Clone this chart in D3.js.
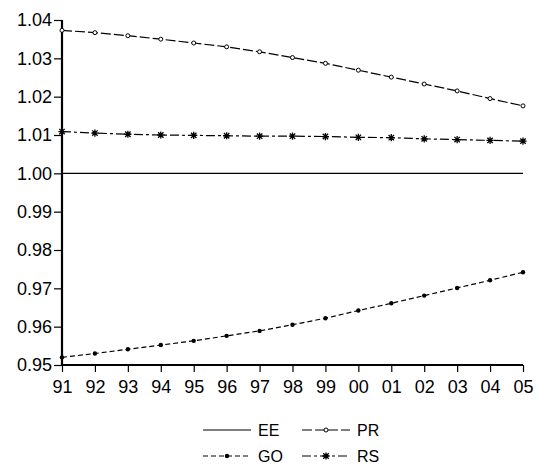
<!DOCTYPE html>
<html>
<head>
<meta charset="utf-8">
<script src="https://cdn.jsdelivr.net/npm/d3@7"></script>
<style>
  html, body { margin: 0; padding: 0; background: #fff; }
  svg { display: block; font-family: "Liberation Sans", Arial, Helvetica, sans-serif; }
</style>
</head>
<body>
<svg id="chart" width="539" height="470"></svg>
<script>
// Years shown on the horizontal axis
const years = ["91","92","93","94","95","96","97","98","99","00","01","02","03","04","05"];

// Series values per year
const ee = [1.000,1.000,1.000,1.000,1.000,1.000,1.000,1.000,1.000,1.000,1.000,1.000,1.000,1.000,1.000];
const pr = [1.0373,1.0367,1.0359,1.0350,1.0340,1.0330,1.0317,1.0302,1.0287,1.0269,1.0251,1.0233,1.0215,1.0195,1.0176];
const go = [0.9520,0.9530,0.9541,0.9552,0.9563,0.9576,0.9589,0.9605,0.9622,0.9642,0.9661,0.9681,0.9701,0.9721,0.9742];
const rs = [1.0109,1.0105,1.0102,1.0100,1.0099,1.0098,1.0097,1.0097,1.0096,1.0094,1.0093,1.0090,1.0088,1.0086,1.0084];

// Value axis ticks
const yTicks = [0.95,0.96,0.97,0.98,0.99,1.00,1.01,1.02,1.03,1.04];

const series = [
  { name: "EE", values: ee, dash: null, marker: "none" },
  { name: "PR", values: pr, dash: "10,3", marker: "circle" },
  { name: "GO", values: go, dash: "5,3", marker: "dot" },
  { name: "RS", values: rs, dash: "9,3,3,3", marker: "star" }
];

const svg = d3.select("#chart");
const plotLeft = 62, plotRight = 523, plotTop = 20, plotBottom = 365;

const x = d3.scalePoint().domain(years).range([plotLeft, plotRight]);
const y = d3.scaleLinear().domain([0.95, 1.04]).range([plotBottom, plotTop]);

// Axes
const yAxis = d3.axisLeft(y).tickValues(yTicks).tickFormat(d3.format(".2f")).tickSize(8).tickPadding(2);
const xAxis = d3.axisBottom(x).tickSize(7).tickPadding(8);

const gy = svg.append("g").attr("transform", `translate(${plotLeft},0)`).call(yAxis);
const gx = svg.append("g").attr("transform", `translate(0,${plotBottom})`).call(xAxis);

[gy, gx].forEach(g => {
  g.select(".domain").attr("stroke", "#000").attr("stroke-width", 2.2);
  g.selectAll(".tick line").attr("stroke", "#000").attr("stroke-width", 1.2);
  g.selectAll(".tick text").attr("fill", "#000").style("font-size", "18px")
    .style("font-family", "'Liberation Sans', Arial, sans-serif");
});
gy.select(".domain").attr("d", `M0,${plotBottom}V${plotTop}`);
gx.select(".domain").attr("d", `M${plotLeft - 1},0H${plotRight}`);

// Marker drawing helper
function drawMarker(g, kind, cx, cy) {
  if (kind === "circle") {
    g.append("circle").attr("cx", cx).attr("cy", cy).attr("r", 2)
      .attr("fill", "#fff").attr("stroke", "#000").attr("stroke-width", 1);
  } else if (kind === "dot") {
    g.append("circle").attr("cx", cx).attr("cy", cy).attr("r", 2.2).attr("fill", "#000");
  } else if (kind === "star") {
    const s = 3.6;
    const d = `M${cx - s},${cy}H${cx + s}M${cx},${cy - s}V${cy + s}` +
      `M${cx - s * 0.75},${cy - s * 0.75}L${cx + s * 0.75},${cy + s * 0.75}` +
      `M${cx - s * 0.75},${cy + s * 0.75}L${cx + s * 0.75},${cy - s * 0.75}`;
    g.append("path").attr("d", d).attr("stroke", "#000").attr("stroke-width", 1.3).attr("fill", "none");
  }
}

// Lines and markers
const line = d3.line().x((d, i) => x(years[i])).y(d => y(d));
series.forEach(s => {
  const g = svg.append("g");
  g.append("path").datum(s.values).attr("d", line)
    .attr("fill", "none").attr("stroke", "#000")
    .attr("stroke-width", s.marker === "none" ? 1.3 : 1.2)
    .attr("stroke-dasharray", s.dash);
  s.values.forEach((v, i) => drawMarker(g, s.marker, x(years[i]), y(v)));
});

// Legend
const legendItems = [
  { s: series[0], x0: 203, y0: 430 },
  { s: series[1], x0: 302, y0: 430 },
  { s: series[2], x0: 203, y0: 456 },
  { s: series[3], x0: 302, y0: 456 }
];
legendItems.forEach(({ s, x0, y0 }) => {
  const g = svg.append("g");
  const len = 48;
  g.append("line").attr("x1", x0).attr("x2", x0 + len).attr("y1", y0).attr("y2", y0)
    .attr("stroke", "#000").attr("stroke-width", 1.2).attr("stroke-dasharray", s.dash);
  drawMarker(g, s.marker, x0 + len / 2, y0);
  g.append("text").attr("x", x0 + len + 7).attr("y", y0).attr("dy", "0.36em")
    .style("font-size", "16px").attr("fill", "#000").text(s.name);
});
</script>
</body>
</html>
